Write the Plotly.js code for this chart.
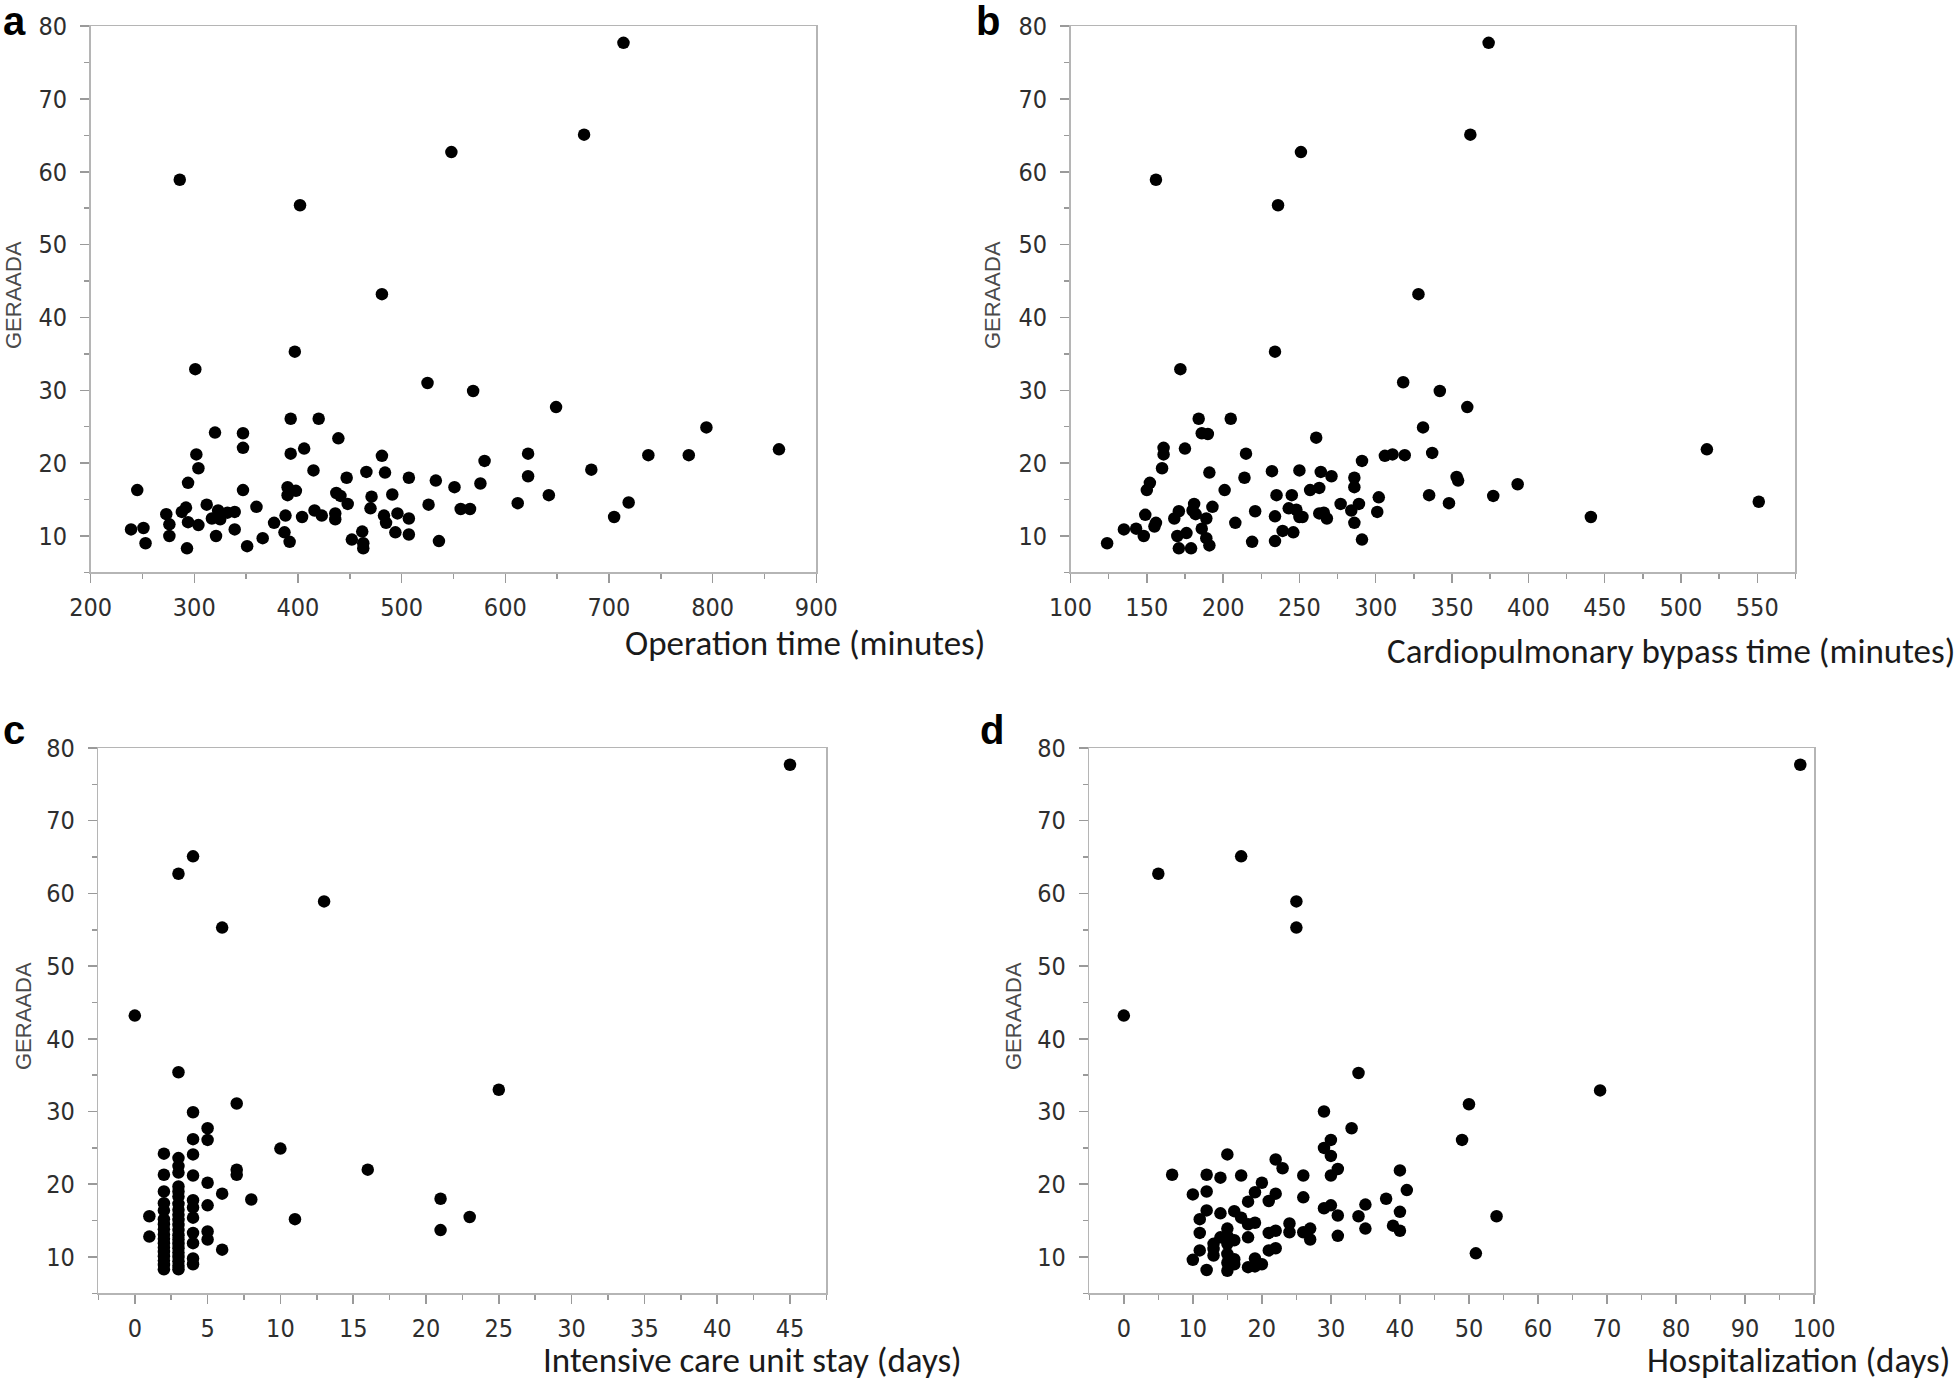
<!DOCTYPE html>
<html>
<head>
<meta charset="utf-8">
<script src="https://cdn.plot.ly/plotly-3.0.1.min.js"></script>
<style>html,body{margin:0;padding:0;background:#fff;}#chart{width:1959px;height:1384px;}</style>
</head>
<body>
<div id="chart"></div>
<script>
// ---------- Panel a: Operation time (minutes) vs GERAADA ----------
const opTime = [714,676,548,286,402,481,397,301,525,569,649,393,420,320,347,347,439,302,393,406,304,415,481,294,245,347,390,390,398,447,466,484,437,441,471,470,448,491,360,312,292,288,273,276,294,304,239,251,253,276,293,323,317,325,332,339,321,339,351,366,377,388,387,392,404,416,423,436,436,452,462,463,463,483,485,507,533,551,576,580,622,622,683,738,777,794,864,496,507,494,507,526,536,557,566,612,642,719,705];
const geraadaA = [77.7,65.1,62.7,58.9,55.4,43.2,35.3,32.9,31.0,29.9,27.7,26.1,26.1,24.2,24.1,22.1,23.4,21.2,21.3,22.0,19.3,19.0,21.0,17.3,16.3,16.3,16.7,15.6,16.2,18.0,18.8,18.7,15.9,15.5,15.4,13.8,14.4,15.7,14.0,14.3,13.9,13.3,13.0,11.6,11.9,11.5,10.9,11.1,9.0,10.0,8.3,13.5,12.4,12.3,13.2,13.3,10.0,10.9,8.6,9.7,11.8,12.8,10.5,9.2,12.6,13.5,12.8,13.1,12.3,9.5,10.6,9.0,8.3,12.8,11.8,18.0,17.6,16.7,17.2,20.3,21.3,18.2,19.1,21.1,21.1,24.9,21.9,13.1,12.4,10.5,10.2,14.3,9.3,13.7,13.7,14.5,15.6,14.6,12.6];

// ---------- Panel b: Cardiopulmonary bypass time (minutes) vs GERAADA ----------
const cpbTime = [374,362,251,156,236,328,234,172,318,342,360,184,205,186,190,161,161,175,215,160,191,214,232,152,150,235,201,181,180,182,193,171,168,149,156,155,135,143,148,124,189,186,189,191,170,176,171,179,208,221,219,234,234,261,331,306,311,319,337,291,250,264,271,286,286,257,263,245,302,301,353,354,335,348,277,289,284,286,243,248,250,252,263,268,266,239,246,291,517,551,441,393,377];
const geraadaB = [77.7,65.1,62.7,58.9,55.4,43.2,35.3,32.9,31.1,29.9,27.7,26.1,26.1,24.1,24.0,22.1,21.2,22.0,21.3,19.3,18.7,18.0,18.9,17.3,16.3,15.6,16.3,14.4,13.5,13.0,14.0,13.4,12.4,12.9,11.8,11.3,10.9,11.0,10.0,9.0,12.4,11.0,9.7,8.7,10.0,10.4,8.3,8.3,11.8,13.4,9.2,12.7,9.3,23.5,24.9,21.0,21.2,21.1,21.4,20.3,19.0,18.8,18.2,18.0,16.7,16.3,16.6,15.6,15.3,13.3,18.1,17.6,15.6,14.5,14.4,14.4,13.5,11.8,13.8,13.6,12.6,12.6,13.1,12.4,13.2,10.7,10.5,9.5,21.9,14.7,12.6,17.1,15.5];

// ---------- Panel c: Intensive care unit stay (days) vs GERAADA ----------
const icuStay = [0,1,1,2,2,2,2,2,2,2,2,2,2,2,2,2,2,2,2,2,3,3,3,3,3,3,3,3,3,3,3,3,3,3,3,3,3,3,3,3,3,3,3,4,4,4,4,4,4,4,4,4,4,4,4,5,5,5,5,5,5,6,6,6,7,7,7,8,10,11,13,16,21,21,23,25,45];
const geraadaC = [43.2,15.6,12.8,24.2,21.3,19.0,17.4,16.4,15.2,14.5,13.8,13.1,12.5,11.9,11.3,10.7,10.1,9.5,8.9,8.3,62.7,35.4,23.6,22.5,21.6,19.7,19.0,18.3,17.3,16.5,15.8,15.1,14.4,13.7,13.0,12.4,11.8,11.2,10.6,10.0,9.4,8.8,8.3,65.1,29.9,26.2,24.1,21.2,17.8,16.8,15.4,13.3,11.9,9.8,9.0,27.7,26.1,20.2,17.1,13.5,12.4,55.3,18.7,11.0,31.1,22.0,21.3,17.9,24.9,15.2,58.9,22.0,18.0,13.7,15.5,33.0,77.7];

// ---------- Panel d: Hospitalization (days) vs GERAADA ----------
const hospStay = [98,17,5,25,25,0,34,69,50,29,33,49,30,29,30,31,30,40,41,38,40,35,34,35,39,40,30,29,31,31,54,51,15,7,12,14,17,22,23,26,10,12,20,19,18,22,21,26,12,11,14,16,17,18,19,11,15,14,15,16,13,15,18,21,22,24,24,26,27,27,11,10,12,13,13,15,15,15,16,16,18,19,19,20,21,22];
const geraadaD = [77.7,65.1,62.7,58.9,55.3,43.2,35.3,32.9,31.0,30.0,27.7,26.1,26.1,25.0,23.9,22.1,21.2,21.9,19.2,18.0,16.2,17.2,15.6,13.9,14.3,13.6,17.1,16.7,15.7,12.9,15.6,10.5,24.1,21.3,21.3,20.9,21.2,23.4,22.2,21.2,18.6,19.0,20.2,18.9,17.6,18.7,17.7,18.2,16.4,15.2,16.0,16.3,15.4,14.5,14.7,13.3,13.9,12.7,12.9,12.3,11.8,11.8,12.7,13.3,13.6,14.6,13.4,13.4,13.9,12.4,10.9,9.6,8.2,11.1,10.2,10.4,9.2,8.1,9.0,9.7,8.6,8.7,9.8,9.0,10.9,11.2];

// ---------- Axis ticks and labels ----------
const yTicks = [10,20,30,40,50,60,70,80];
const xTicksA = [200,300,400,500,600,700,800,900];
const xTicksB = [100,150,200,250,300,350,400,450,500,550];
const xTicksC = [0,5,10,15,20,25,30,35,40,45];
const xTicksD = [0,10,20,30,40,50,60,70,80,90,100];
const yTitle = 'GERAADA';
const xTitles = ['Operation time (minutes)', 'Cardiopulmonary bypass time (minutes)', 'Intensive care unit stay (days)', 'Hospitalization (days)'];
const panelLetters = ['a','b','c','d'];

const W = 1959, H = 1384;
const px = v => v / W;
const py = v => 1 - v / H;

const FRAME = '#b5b5b5';
const TICKC = '#9a9a9a';
const tickFont = {family: 'Liberation Sans Narrow, Arial Narrow, DejaVu Sans Condensed, sans-serif', size: 25, color: '#2e2e2e'};

function trace(x, y, xa, ya) {
  return {x: x, y: y, xaxis: xa, yaxis: ya, type: 'scatter', mode: 'markers',
    marker: {size: 12.5, color: '#000000', line: {width: 0}}, hoverinfo: 'skip', cliponaxis: false};
}

function xAxis(domain, range, ticks, minorDt, anchor) {
  return {domain: domain, range: range, anchor: anchor, showline: true, linecolor: FRAME, linewidth: 1.5, mirror: true,
    showgrid: false, zeroline: false, ticks: 'outside', ticklen: 9, tickwidth: 1.5, tickcolor: TICKC,
    tickmode: 'array', tickvals: ticks, ticktext: ticks.map(String), tickfont: tickFont, ticklabelstandoff: 3,
    minor: {ticks: 'outside', ticklen: 5, tickwidth: 1.5, tickcolor: TICKC, tickmode: 'linear', tick0: 0, dtick: minorDt, showgrid: false},
    fixedrange: true};
}
function yAxis(domain, anchor) {
  return {domain: domain, range: [5, 80], anchor: anchor, showline: true, linecolor: FRAME, linewidth: 1.5, mirror: true,
    showgrid: false, zeroline: false, ticks: 'outside', ticklen: 9, tickwidth: 1.5, tickcolor: TICKC,
    tickmode: 'array', tickvals: yTicks, ticktext: yTicks.map(String), tickfont: tickFont, ticklabelstandoff: 8,
    minor: {ticks: 'outside', ticklen: 5, tickwidth: 1.5, tickcolor: TICKC, tickmode: 'linear', tick0: 0, dtick: 5, showgrid: false},
    fixedrange: true};
}

const topRow = [py(572.4), py(26.1)];
const botRow = [py(1293.3), py(748)];

const data = [
  trace(opTime, geraadaA, 'x', 'y'),
  trace(cpbTime, geraadaB, 'x2', 'y2'),
  trace(icuStay, geraadaC, 'x3', 'y3'),
  trace(hospStay, geraadaD, 'x4', 'y4')
];

const titleFont = {family: 'Carlito, Lato, sans-serif', size: 35, color: '#1a1a1a'};
const yTitleFont = {family: 'Liberation Sans, Arial, sans-serif', size: 22, color: '#4a4a4a'};
const letterFont = {family: 'Liberation Sans, Arial, sans-serif', size: 40, color: '#000'};

const annotations = [
  {text: yTitle, x: px(14), y: py(295), textangle: -90},
  {text: yTitle, x: px(993), y: py(295), textangle: -90},
  {text: yTitle, x: px(23), y: py(1016), textangle: -90},
  {text: yTitle, x: px(1013), y: py(1016), textangle: -90}
].map(a => Object.assign(a, {xref: 'paper', yref: 'paper', xanchor: 'center', yanchor: 'middle', showarrow: false, font: yTitleFont}));

const xTitlePos = [[987, 643], [1957, 651], [964, 1360], [1952, 1360]];
xTitles.forEach((t, i) => annotations.push({text: t, xref: 'paper', yref: 'paper', x: px(xTitlePos[i][0]), y: py(xTitlePos[i][1]),
  xanchor: 'right', yanchor: 'middle', showarrow: false, font: titleFont}));

const letterPos = [[1, 21], [974, 21], [1, 730], [978, 730]];
panelLetters.forEach((t, i) => annotations.push({text: '<b>' + t + '</b>', xref: 'paper', yref: 'paper', x: px(letterPos[i][0]), y: py(letterPos[i][1]),
  xanchor: 'left', yanchor: 'middle', showarrow: false, font: letterFont}));

const layout = {
  width: W, height: H, margin: {l: 0, r: 0, t: 0, b: 0, pad: 0},
  paper_bgcolor: '#ffffff', plot_bgcolor: '#ffffff', showlegend: false, hovermode: false,
  xaxis: xAxis([px(90.6), px(816.3)], [200, 900], xTicksA, 50, 'y'),
  yaxis: yAxis(topRow, 'x'),
  xaxis2: xAxis([px(1070.5), px(1795.4)], [100, 575], xTicksB, 25, 'y2'),
  yaxis2: yAxis(topRow, 'x2'),
  xaxis3: xAxis([px(98.4), px(826.4)], [-2.5, 47.5], xTicksC, 2.5, 'y3'),
  yaxis3: yAxis(botRow, 'x3'),
  xaxis4: xAxis([px(1089.3), px(1814.1)], [-5, 100], xTicksD, 5, 'y4'),
  yaxis4: yAxis(botRow, 'x4'),
  annotations: annotations
};

Plotly.newPlot('chart', data, layout, {staticPlot: true, displayModeBar: false});
</script>
</body>
</html>
